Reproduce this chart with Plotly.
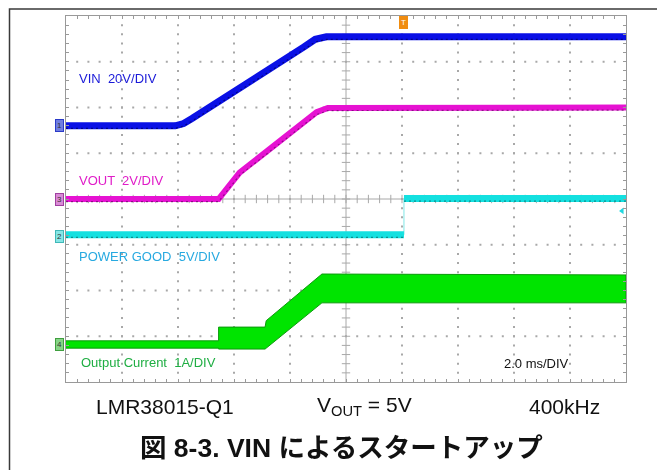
import plotly.graph_objects as go

# ---- data (time in ms, 2 ms/div, trigger at 0) ----
vin_t = [-10.0, -6.1, -5.8, -5.5, -1.5, -1.1, -0.7, 10.0]
vin_v = [0.0, 0.0, 1.0, 3.2, 34.5, 37.8, 38.9, 38.9]          # V, 20 V/div

vout_t = [-10.0, -4.55, -3.8, -2.8, -1.05, -0.65, 10.0]
vout_v = [0.0, 0.0, 1.15, 2.12, 3.8, 3.98, 4.0]                # V, 2 V/div

pg_t = [-10.0, 2.07, 2.07, 10.0]
pg_v = [0.15, 0.15, 4.1, 4.1]                                  # V, 5 V/div

cur_t = [-10.0, -4.55, -4.55, -2.89, -2.85, -0.86, 10.0]
cur_hi = [0.09, 0.09, 0.39, 0.39, 0.53, 1.55, 1.53]            # A, 1 A/div (ripple envelope)
cur_lo = [-0.07, -0.07, -0.09, -0.09, -0.07, 0.92, 0.92]

# channel settings: (ground offset in divisions, units per division)
CH_VIN = (1.6, 20.0)
CH_VOUT = (0.0, 2.0)
CH_PG = (-0.81, 5.0)
CH_CUR = (-3.19, 1.0)

def to_div(vals, ch, shift=0.0):
    off, sc = ch
    return [off + v / sc + shift for v in vals]

def break_vertical(t, y):
    xs, ys = [], []
    for i in range(len(t)):
        if i > 0 and t[i] == t[i - 1]:
            xs.append(None); ys.append(None)
        xs.append(t[i]); ys.append(y[i])
    return xs, ys

# page is offset by the 8px body margin
PAGE_OFF = 8
W, H = 665 - PAGE_OFF, 470 - PAGE_OFF
L, R, T, B = 66, 626, 16, 382          # plot area in page pixels
DIV_PX = (B - T) / 8.0
EDGE = -2.6 / DIV_PX                    # offset of the darker noise edge under each trace

def px(x):
    return (x - L) / (R - L)

def py(y):
    return (B - y) / (B - T)

fig = go.Figure()

# ---- grid dots ----
GRID = "#a8a8a8"
gx, gy = [], []
for i in range(-4, 5):
    if i == 0:
        continue
    for k in range(1, 40):
        gx.append(i * 2.0); gy.append(-4 + k * 0.2)
for j in range(-3, 4):
    if j == 0:
        continue
    for k in range(1, 50):
        gx.append(-10 + k * 0.4); gy.append(float(j))
fig.add_trace(go.Scatter(x=gx, y=gy, mode="markers", hoverinfo="skip",
                         marker=dict(symbol="square", size=2, color=GRID, line=dict(width=0))))

# center cross ticks
cx = [-10 + k * 0.4 for k in range(1, 50)]
fig.add_trace(go.Scatter(x=cx, y=[0] * len(cx), mode="markers", hoverinfo="skip",
                         marker=dict(symbol="line-ns", size=6, line=dict(width=1, color=GRID))))
cy = [-4 + k * 0.2 for k in range(1, 40)]
fig.add_trace(go.Scatter(x=[0] * len(cy), y=cy, mode="markers", hoverinfo="skip",
                         marker=dict(symbol="line-ew", size=6, line=dict(width=1, color=GRID))))

# ---- traces ----
def thick_trace(t, vals, ch, color, dark, width):
    bx, by = break_vertical(t, to_div(vals, ch))
    fig.add_trace(go.Scatter(x=bx, y=by, mode="lines", connectgaps=False,
                             line=dict(color=color, width=width), hoverinfo="skip"))
    ex, ey = break_vertical(t, to_div(vals, ch, EDGE))
    fig.add_trace(go.Scatter(x=ex, y=ey, mode="lines", connectgaps=False, opacity=0.7,
                             line=dict(color=dark, width=1.2, dash="2px,3px"), hoverinfo="skip"))

thick_trace(vin_t, vin_v, CH_VIN, "#0a10e6", "#00005a", 7)
thick_trace(vout_t, vout_v, CH_VOUT, "#e612d2", "#6a0a66", 6)
fig.add_trace(go.Scatter(x=pg_t, y=to_div(pg_v, CH_PG), mode="lines",
                         line=dict(color="#7fe6e6", width=1), hoverinfo="skip"))
thick_trace(pg_t, pg_v, CH_PG, "#14e0e0", "#0a6a6a", 7)

hi_d = to_div(cur_hi, CH_CUR)
lo_d = to_div(cur_lo, CH_CUR)
fig.add_trace(go.Scatter(x=cur_t + cur_t[::-1], y=hi_d + lo_d[::-1], mode="lines",
                         fill="toself", fillcolor="#00e400",
                         line=dict(color="#0b9a0b", width=1), hoverinfo="skip"))

# channel ground markers
markers = [
    ("1", CH_VIN[0], "#6f7de0", "#2a3ac8"),
    ("3", CH_VOUT[0], "#d98ad6", "#a040a0"),
    ("2", CH_PG[0], "#86e6e6", "#40b8b8"),
    ("4", CH_CUR[0], "#86d486", "#3f9f3f"),
]
for num, yd, fillc, linec in markers:
    fig.add_trace(go.Scatter(x=[-10.25], y=[yd], mode="markers", hoverinfo="skip", cliponaxis=False,
                             marker=dict(symbol="triangle-right", size=7, color=fillc,
                                         line=dict(width=1, color=linec))))
    fig.add_annotation(x=px(59), y=yd, xref="paper", yref="y", text=num, showarrow=False,
                       font=dict(size=8, color="#333", family="Liberation Sans"),
                       bgcolor=fillc, bordercolor=linec, borderwidth=1, borderpad=1,
                       xanchor="center", yanchor="middle")

# trigger level marker (right) and trigger position (top)
fig.add_trace(go.Scatter(x=[9.86], y=[-0.26], mode="markers", hoverinfo="skip", cliponaxis=False,
                         marker=dict(symbol="triangle-left", size=6, color="#20d8e0")))
fig.add_annotation(x=2.07, y=py(22), xref="x", yref="paper", text="T", showarrow=False,
                   font=dict(size=8, color="white", family="Liberation Sans"),
                   bgcolor="#f08c10", bordercolor="#f08c10", borderwidth=1, borderpad=1,
                   xanchor="center", yanchor="middle")

# ---- labels ----
FONT = "Liberation Sans, Arial, sans-serif"
labels = [
    ("VIN  20V/DIV", 77, 79, "#1a1ad8"),
    ("VOUT  2V/DIV", 77, 181, "#e01cc8"),
    ("POWER GOOD  5V/DIV", 77, 257, "#27a9e0"),
    ("Output Current  1A/DIV", 79, 362, "#1fae43"),
    ("2.0 ms/DIV", 502, 363, "#111111"),
]
for txt, x, y, col in labels:
    fig.add_annotation(x=px(x), y=py(y), xref="paper", yref="paper", text=txt, showarrow=False,
                       xanchor="left", yanchor="middle", font=dict(size=13, color=col, family=FONT))

bottom = [
    ("LMR38015-Q1", 164.5, 406),
    ("V<sub>OUT</sub> = 5V", 364, 406),
    ("400kHz", 564.5, 406),
]
for txt, x, y in bottom:
    fig.add_annotation(x=px(x), y=py(y), xref="paper", yref="paper", text=txt, showarrow=False,
                       xanchor="center", yanchor="middle", font=dict(size=21, color="#111", family=FONT))

fig.add_annotation(x=px(341.5), y=py(448), xref="paper", yref="paper",
                   text="<b>図 8-3. VIN によるスタートアップ</b>", showarrow=False,
                   xanchor="center", yanchor="middle",
                   font=dict(size=26.5, color="#111", family="Liberation Sans, Noto Sans CJK JP"))

# outer frame and center lines
fig.add_shape(type="rect", xref="paper", yref="paper", x0=px(9.5), x1=px(720), y0=py(540), y1=py(8.9),
              line=dict(color="#3a3a3a", width=1.5), layer="below")
fig.add_shape(type="line", xref="x", yref="y", x0=0, x1=0, y0=-4, y1=4,
              line=dict(color=GRID, width=1), layer="below")
fig.add_shape(type="line", xref="x", yref="y", x0=-10, x1=10, y0=0, y1=0,
              line=dict(color=GRID, width=1), layer="below")

axis_common = dict(showgrid=False, zeroline=False, showline=True, linecolor="#999999", linewidth=1,
                   mirror="allticks", ticks="inside", ticklen=3, tickcolor="#999999",
                   showticklabels=False, fixedrange=True)
fig.update_xaxes(range=[-10, 10], tick0=-10, dtick=0.4, **axis_common)
fig.update_yaxes(range=[-4, 4], tick0=-4, dtick=0.2, **axis_common)

fig.update_layout(width=W, height=H,
                  margin=dict(l=L - PAGE_OFF, r=(W + PAGE_OFF) - R, t=T - PAGE_OFF, b=(H + PAGE_OFF) - B),
                  paper_bgcolor="white", plot_bgcolor="white", showlegend=False)

fig.write_html("out.html")
